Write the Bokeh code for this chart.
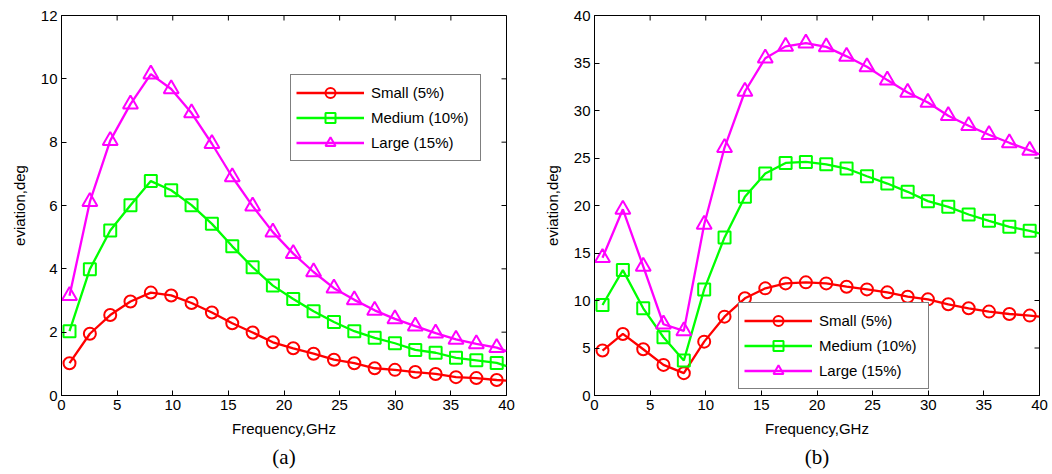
from bokeh.plotting import figure
from bokeh.layouts import row
from bokeh.models import FixedTicker, Range1d, Legend, LegendItem, Title
from bokeh.embed import file_html
from bokeh.resources import INLINE

# Frequencies (GHz); the last entry is where the lines leave the frame
freq = [0.72, 2.55, 4.38, 6.2, 8.03, 9.86, 11.69, 13.52, 15.35, 17.18, 19.0,
        20.83, 22.66, 24.49, 26.32, 28.15, 29.97, 31.8, 33.63, 35.46, 37.29, 39.12, 40.0]

# Panel (a)
a_small = [1.02, 1.95, 2.54, 2.97, 3.25, 3.16, 2.92, 2.62, 2.28, 1.99, 1.68,
           1.49, 1.32, 1.13, 1.02, 0.86, 0.81, 0.74, 0.68, 0.58, 0.55, 0.49, 0.47]
a_medium = [2.03, 3.99, 5.21, 6.01, 6.77, 6.48, 6.01, 5.42, 4.71, 4.05, 3.47,
            3.05, 2.66, 2.32, 2.03, 1.82, 1.65, 1.44, 1.35, 1.19, 1.11, 1.03, 0.93]
a_large = [3.15, 6.12, 8.05, 9.2, 10.15, 9.68, 8.92, 7.95, 6.9, 5.98, 5.16,
           4.48, 3.9, 3.39, 3.02, 2.69, 2.42, 2.19, 1.97, 1.77, 1.63, 1.51, 1.4]

# Panel (b)
b_small = [4.73, 6.48, 4.87, 3.22, 2.35, 5.67, 8.3, 10.23, 11.28, 11.8, 11.91,
           11.8, 11.45, 11.17, 10.86, 10.4, 10.12, 9.6, 9.18, 8.83, 8.58, 8.41, 8.3]
b_medium = [9.53, 13.2, 9.18, 6.13, 3.68, 11.17, 16.64, 20.91, 23.36, 24.48, 24.59,
            24.34, 23.89, 23.08, 22.31, 21.44, 20.46, 19.86, 19.05, 18.39, 17.76, 17.34, 17.06]
b_large = [14.5, 19.6, 13.6, 7.5, 6.8, 18.0, 26.1, 32.0, 35.5, 36.75, 37.1,
           36.7, 35.7, 34.6, 33.2, 31.9, 30.85, 29.45, 28.4, 27.45, 26.6, 25.8, 25.4]

labels = ["Small (5%)", "Medium (10%)", "Large (15%)"]
colors = ["#ff0000", "#00ff00", "#ff00ff"]
markers = ["circle", "square", "triangle"]
msizes = [12, 12, 15]

x_ticks = [0, 5, 10, 15, 20, 25, 30, 35, 40]
a_yticks = [0, 2, 4, 6, 8, 10, 12]
b_yticks = [0, 5, 10, 15, 20, 25, 30, 35, 40]

FONT = "Liberation Sans"
FW, FH = 445, 380
TICK = 5


def style_axis(ax):
    ax.axis_line_color = "black"
    ax.axis_line_width = 1
    ax.major_tick_in = TICK
    ax.major_tick_out = 0
    ax.minor_tick_line_color = None
    ax.major_tick_line_color = "black"
    ax.major_label_text_font = FONT
    ax.major_label_text_font_size = "15px"
    ax.major_label_text_color = "black"
    ax.axis_label_text_font = FONT
    ax.axis_label_text_font_size = "15px"
    ax.axis_label_text_font_style = "normal"
    ax.axis_label_text_color = "black"


def make_panel(series, yticks, ymax, tag, bl, br, legend_loc):
    xmax = 40
    p = figure(frame_width=FW, frame_height=FH, output_backend="svg",
               toolbar_location=None, x_range=Range1d(0, xmax), y_range=Range1d(0, ymax),
               min_border_left=bl, min_border_right=br, min_border_top=15,
               min_border_bottom=10)
    p.grid.visible = False
    p.outline_line_color = "black"
    p.outline_line_width = 1
    p.background_fill_color = "white"
    p.xaxis.ticker = FixedTicker(ticks=x_ticks)
    p.yaxis.ticker = FixedTicker(ticks=yticks)
    p.xaxis.axis_label = "Frequency,GHz"
    p.yaxis.axis_label = "eviation,deg"
    p.xaxis.major_label_standoff = 4
    p.xaxis.axis_label_standoff = 7
    p.yaxis.major_label_standoff = 4
    p.yaxis.axis_label_standoff = 10
    style_axis(p.xaxis[0])
    style_axis(p.yaxis[0])

    # inward ticks on the top and right edges of the box
    dy = ymax * TICK / FH
    dx = xmax * TICK / FW
    p.segment(x0=x_ticks, x1=x_ticks, y0=[ymax] * len(x_ticks),
              y1=[ymax - dy] * len(x_ticks), line_color="black", line_width=1)
    p.segment(x0=[xmax] * len(yticks), x1=[xmax - dx] * len(yticks),
              y0=yticks, y1=yticks, line_color="black", line_width=1)

    items = []
    for vals, lab, col, mk, ms in zip(series, labels, colors, markers, msizes):
        ln = p.line(freq, vals, line_color=col, line_width=2.3)
        sc = p.scatter(freq[:-1], vals[:-1], marker=mk, size=ms, line_color=col,
                       line_width=2, fill_color=None)
        items.append(LegendItem(label=lab, renderers=[ln, sc]))
    leg = Legend(items=items, location=legend_loc, glyph_width=68, glyph_height=25,
                 label_standoff=7, spacing=0, padding=5, margin=0, label_width=104,
                 label_text_font=FONT, label_text_font_size="15px",
                 border_line_color="black", border_line_width=1.2,
                 background_fill_alpha=1.0, label_text_color="black")
    p.add_layout(leg, "center")
    t = Title(text=tag, align="center", text_font="Liberation Serif",
              text_font_size="21px", text_font_style="normal", text_color="black",
              standoff=6)
    p.add_layout(t, "below")
    return p


pa = make_panel([a_small, a_medium, a_large], a_yticks, 12, "(a)", 61, 24, (229, 234))
pb = make_panel([b_small, b_medium, b_large], b_yticks, 40, "(b)", 64, 13, (144, 6))

layout = row(pa, pb)
open("out.html", "w").write(file_html(layout, INLINE))
